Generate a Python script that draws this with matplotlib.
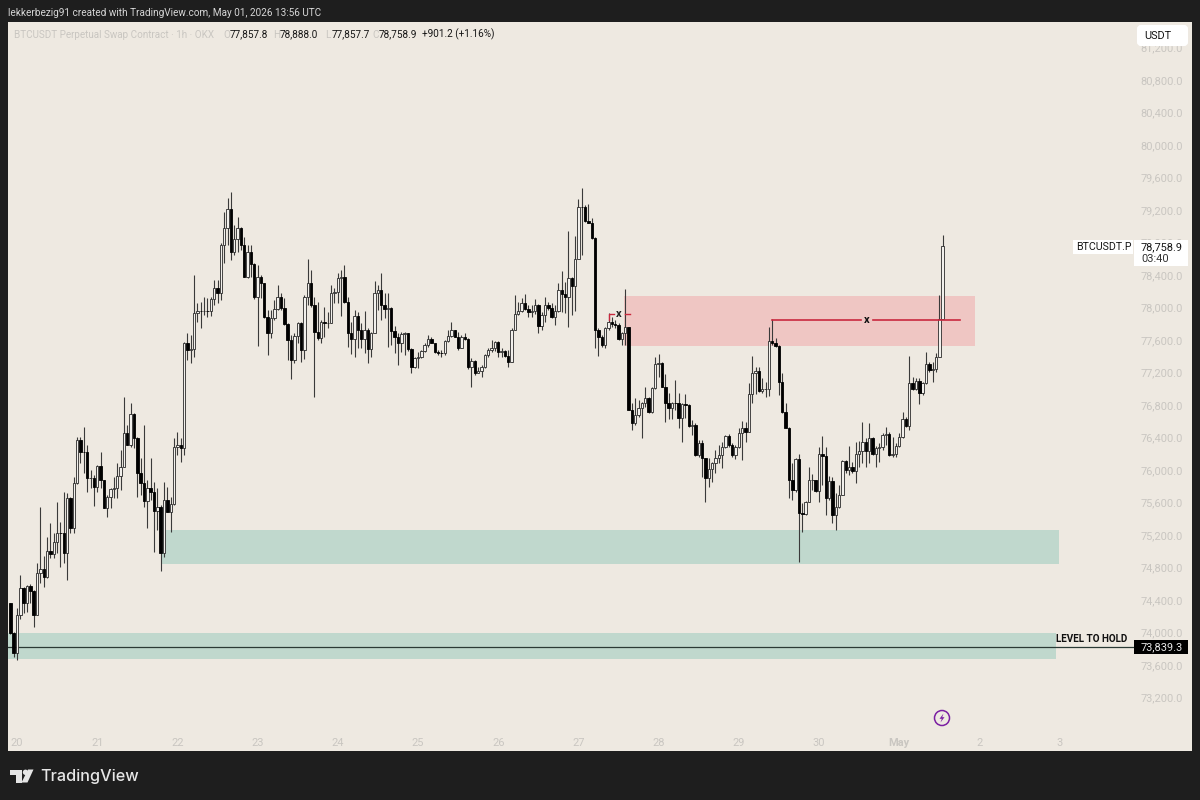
import matplotlib
matplotlib.use('Agg')
import matplotlib.pyplot as plt
import numpy as np
from matplotlib.patches import Circle, FancyBboxPatch, Polygon, Rectangle
from matplotlib.ticker import FuncFormatter

plt.rcParams['font.family'] = ['Roboto', 'DejaVu Sans']

# hourly candles, Apr 19 22:00 to May 1 13:00
first_open = 74366
closes = [
    73989, 73751, 74215, 74543, 74366, 74572, 74514, 74219, 74736, 74777, 74678, 75006, 74965, 75117, 75228, 75220,
    74982, 75651, 75281, 75835, 76369, 76225, 76217, 75897, 75905, 75794, 76053, 75876, 75536, 75663, 75761, 75774,
    75926, 76032, 76451, 76307, 76685, 76389, 75967, 75843, 75618, 75774, 75733, 75495, 75548, 74974, 75630, 75487,
    75581, 76278, 76307, 76266, 77559, 77476, 77485, 77928, 77961, 77957, 77961, 77957, 78100, 78236, 78174, 78769,
    78974, 79208, 78687, 78839, 78974, 78769, 78379, 78687, 78531, 78125, 78379, 78297, 77879, 77690, 77866, 77977,
    78133, 77989, 77797, 77600, 77353, 77649, 77805, 77476, 78125, 78305, 78030, 77702, 77628, 77825, 77805, 77813,
    78174, 78194, 78367, 78371, 78071, 77682, 77608, 77895, 77723, 77608, 77723, 77485, 77690, 78174, 78215, 78030,
    77977, 77989, 77714, 77632, 77567, 77673, 77682, 77485, 77263, 77374, 77394, 77468, 77538, 77608, 77559, 77456,
    77444, 77435, 77587, 77649, 77723, 77641, 77497, 77641, 77608, 77271, 77345, 77197, 77222, 77271, 77415, 77476,
    77505, 77571, 77456, 77464, 77403, 77333, 77723, 77920, 77961, 78051, 77977, 77948, 77961, 78030, 77776, 77907,
    78030, 77989, 77879, 77961, 78215, 78166, 78125, 78359, 78264, 78597, 79241, 79233, 79064, 79036, 78859, 77723,
    77641, 77538, 77743, 77825, 77792, 77784, 77612, 77682, 77764, 76738, 76574, 76677, 76759, 76820, 76890, 76718,
    77005, 77305, 77321, 77026, 76829, 76759, 76829, 76820, 76644, 76812, 76800, 76541, 76554, 76184, 76328, 76143,
    75897, 76008, 76082, 76143, 76184, 76279, 76418, 76308, 76184, 76287, 76459, 76513, 76472, 76931, 77198, 77223,
    76972, 76993, 76993, 77592, 77567, 77526, 77087, 76718, 76521, 75877, 75754, 76131, 75466, 75458, 75610, 75877,
    75880, 75745, 76193, 76172, 75659, 75864, 75446, 75549, 75692, 76111, 76000, 76033, 75992, 76197, 76238, 76349,
    76238, 76390, 76197, 76267, 76279, 76431, 76443, 76184, 76197, 76295, 76402, 76623, 76541, 77067, 76993, 77099,
    76944, 77075, 77305, 77231, 77239, 77395, 77857.8, 78758.9,
]
highs = [
    74366, 74010, 74296, 74707, 74555, 74584, 74592, 74522, 74851, 75548, 74941, 75179, 75343, 75220, 75610, 75363,
    75733, 75712, 75671, 75917, 76410, 76410, 76533, 76307, 76000, 75938, 76061, 76225, 75876, 75692, 75774, 75917,
    76081, 76246, 76902, 76553, 76828, 76705, 76410, 76143, 76553, 75876, 76143, 75856, 75774, 75569, 75856, 75794,
    75671, 76389, 76463, 76389, 77579, 77690, 77661, 78400, 78051, 78071, 78133, 78112, 78125, 78338, 78338, 78789,
    79179, 79343, 79425, 79015, 79118, 78995, 78871, 78769, 78769, 78543, 78523, 78400, 78297, 77969, 77969, 78092,
    78277, 78174, 78112, 77805, 77661, 77682, 77825, 77825, 78153, 78597, 78461, 78133, 78071, 77846, 78010, 77948,
    78277, 78236, 78428, 78461, 78523, 78133, 77825, 77969, 77948, 77805, 77957, 77743, 77702, 78326, 78277, 78420,
    78174, 78182, 78010, 77772, 77682, 77702, 77702, 77690, 77497, 77394, 77456, 77476, 77559, 77661, 77641, 77567,
    77476, 77476, 77600, 77723, 77825, 77723, 77702, 77661, 77690, 77620, 77374, 77353, 77271, 77292, 77427, 77497,
    77600, 77592, 77587, 77497, 77476, 77476, 77743, 78153, 78071, 78112, 78166, 78030, 78030, 78100, 78043, 77948,
    78125, 78071, 78051, 78030, 78297, 78453, 78318, 78941, 78379, 78880, 79331, 79466, 79261, 79269, 79097, 78863,
    77743, 77661, 77764, 77928, 77887, 77846, 77805, 77702, 78223, 77764, 76820, 76882, 76861, 76841, 77017, 76902,
    77026, 77395, 77428, 77333, 77181, 76944, 76841, 77108, 76952, 76829, 76935, 76808, 76615, 76574, 76369, 76369,
    76152, 76143, 76102, 76246, 76308, 76349, 76431, 76443, 76328, 76308, 76513, 76607, 76595, 77067, 77403, 77272,
    77272, 77128, 77087, 77756, 77854, 77620, 77538, 77190, 76820, 76533, 76082, 76143, 76197, 75590, 75622, 76041,
    75951, 75877, 76279, 76418, 76287, 75926, 75918, 75713, 75815, 76123, 76123, 76295, 76102, 76349, 76361, 76595,
    76390, 76582, 76410, 76295, 76328, 76451, 76525, 76472, 76402, 76328, 76451, 76718, 76656, 77403, 77149, 77128,
    77128, 77087, 77456, 77333, 77333, 77436, 78154, 78888.0,
]
lows = [
    73980, 73702, 73661, 74161, 74235, 74256, 74358, 74063, 74215, 74604, 74563, 74666, 74912, 74912, 74974, 74810,
    74851, 74645, 75220, 75220, 75827, 76081, 75958, 75733, 75774, 75556, 75733, 75774, 75527, 75425, 75527, 75651,
    75651, 75753, 76032, 76307, 76287, 76266, 75671, 75692, 75548, 75290, 75630, 74994, 75261, 74760, 74933, 75487,
    75240, 75569, 76184, 76102, 76184, 77353, 77312, 77394, 77825, 77751, 77907, 77887, 77895, 78030, 78051, 78092,
    78543, 78769, 78584, 78646, 78687, 78707, 78371, 78359, 78379, 78100, 77530, 78112, 77866, 77415, 77620, 77846,
    77969, 77969, 77784, 77353, 77115, 77312, 77559, 77333, 77362, 78030, 78010, 76902, 77600, 77559, 77641, 77743,
    77813, 78051, 78051, 77895, 78051, 77517, 77427, 77386, 77497, 77497, 77435, 77312, 77394, 77682, 77969, 77846,
    77866, 77509, 77538, 77444, 77292, 77456, 77415, 77468, 77189, 77251, 77251, 77374, 77456, 77517, 77559, 77444,
    77415, 77394, 77415, 77579, 77641, 77632, 77476, 77497, 77600, 77238, 77017, 77169, 77189, 77140, 77251, 77394,
    77456, 77468, 77386, 77394, 77394, 77271, 77333, 77723, 77907, 77948, 77969, 77887, 77887, 77920, 77690, 77723,
    77825, 77969, 77866, 77784, 77948, 77948, 77928, 77755, 77907, 77961, 78658, 78646, 79056, 79036, 78839, 77497,
    77403, 77517, 77497, 77723, 77764, 77743, 77600, 77538, 77538, 76738, 76492, 76554, 76656, 76390, 76779, 76706,
    76706, 76993, 77149, 77017, 76595, 76623, 76623, 76738, 76513, 76340, 76636, 76533, 76431, 76172, 76164, 75918,
    75610, 75795, 75856, 75959, 76082, 76020, 76267, 76287, 76164, 76131, 76267, 76123, 76349, 76472, 76829, 76935,
    76964, 76952, 76902, 76911, 77538, 77518, 76923, 76706, 76513, 75651, 75631, 75733, 74872, 75241, 75446, 75610,
    75754, 75733, 75610, 75815, 75446, 75631, 75352, 75261, 75528, 75692, 75959, 75938, 75959, 75836, 76041, 76082,
    76041, 76082, 76184, 76041, 76102, 76246, 76308, 76172, 76164, 76164, 76287, 76390, 76533, 76492, 76985, 76985,
    76812, 76923, 77058, 77210, 77087, 77210, 77395, 77857.7,
]
assert len(closes) == len(highs) == len(lows) == 280

price_ticks = [73200, 73600, 74000, 74400, 74800, 75200, 75600, 76000, 76400, 76800,
               77200, 77600, 78000, 78400, 78800, 79200, 79600, 80000, 80400, 80800, 81200]
day_labels = ['20', '21', '22', '23', '24', '25', '26', '27', '28', '29', '30', 'May', '2', '3']

# zones and levels: (first candle, last candle, low, high)
red_zone = (181.6, 286.7, 77526, 78142)
green_zone = (43.1, 311.8, 74843, 75261)
hold_zone = (-3, 310.9, 73674, 73994)
hold_level = 73825
sweep_level = 77846
small_sweep_level = 77920

BG = '#1e1e1e'
PANEL = '#eee9e1'
FAINT = '#c9c6c1'
RED = '#c9283e'

opens = [first_open] + closes[:-1]
hours = np.arange(-2, 278)

fig = plt.figure(figsize=(12, 8), dpi=100, facecolor=BG)
ax = fig.add_axes([8 / 1200, 1 - 751 / 800, 1184 / 1200, 729 / 800], facecolor=PANEL)
ax.set_xlim(-2.69, 351.6)
ax.set_ylim(72541, 81514)
for s in ax.spines.values():
    s.set_visible(False)

for x0, x1, y0, y1, c in [(*red_zone, '#efc6c3'), (*green_zone, '#c0d8cd'), (*hold_zone, '#c0d8cd')]:
    ax.add_patch(Rectangle((x0, y0), x1 - x0, y1 - y0, fc=c, ec='none', zorder=1))

# hold line runs up to the price box
ax.plot([-3, 334.8], [hold_level, hold_level], color='#2a3a35', lw=0.9, zorder=2)

# candles
ax.vlines(hours, lows, highs, color='#3a3a3a', lw=0.8, zorder=3)
up = np.array(closes) >= np.array(opens)
bottoms = np.minimum(opens, closes)
heights = np.abs(np.array(closes) - np.array(opens))
ax.bar(hours[up], heights[up], bottom=bottoms[up], width=0.72, fc='#f2f0ec', ec='#2a2a2a', lw=0.6, zorder=4)
ax.bar(hours[~up], heights[~up], bottom=bottoms[~up], width=0.72, fc='black', ec='black', lw=0.6, zorder=4)

# swept highs
ax.plot([226, 252.5], [sweep_level, sweep_level], color=RED, lw=1.2, zorder=5)
ax.plot([256, 282.2], [sweep_level, sweep_level], color=RED, lw=1.2, zorder=5)
ax.text(254.2, sweep_level, 'x', ha='center', va='center', fontsize=8, fontweight='bold', color='#111', zorder=6)
ax.plot([177, 177, 178.5], [small_sweep_level - 70, small_sweep_level, small_sweep_level], color=RED, lw=1.0, zorder=5)
ax.plot([182, 183.3], [small_sweep_level, small_sweep_level], color=RED, lw=1.0, zorder=5)
ax.text(180, small_sweep_level, 'x', ha='center', va='center', fontsize=8, fontweight='bold', color='#222', zorder=6)

# axes labels sit inside the panel, TradingView style
ax.set_xticks(np.arange(len(day_labels)) * 24)
ax.set_xticklabels(day_labels)
ax.tick_params(axis='x', length=0, pad=-9.5, labelsize=7.9, labelcolor=FAINT)
ax.get_xticklabels()[11].set_fontweight('bold')
ax.yaxis.tick_right()
ax.set_yticks(price_ticks)
ax.yaxis.set_major_formatter(FuncFormatter(lambda v, p: f'{v:,.1f}'))
ax.tick_params(axis='y', length=0, pad=-6.5, labelsize=7.9, labelcolor=FAINT)
for lbl in ax.get_yticklabels():
    lbl.set_ha('right')

# overlay in pixel coordinates for the page furniture
ov = fig.add_axes([0, 0, 1, 1], facecolor='none')
ov.set_xlim(0, 1200)
ov.set_ylim(800, 0)
ov.axis('off')

ov.text(8, 12.5, 'lekkerbezig91 created with TradingView.com, May 01, 2026 13:56 UTC',
        color='#d6d6d6', fontsize=7.2, va='center')
ov.text(14, 34.5, 'BTCUSDT Perpetual Swap Contract · 1h · OKX', color=FAINT, fontsize=7.1, va='center')
for x, letter, value in [(223, 'O', '77,857.8'), (273, 'H', '78,888.0'), (325, 'L', '77,857.7'), (372, 'C', '78,758.9')]:
    ov.text(x, 34.5, letter, color=FAINT, fontsize=7.1, va='center')
    ov.text(x + 7, 34.5, value, color='#161616', fontsize=7.2, va='center')
ov.text(422, 34.5, '+901.2 (+1.16%)', color='#161616', fontsize=7.2, va='center')

ov.add_patch(FancyBboxPatch((1138, 26), 49, 19, boxstyle='round,pad=0,rounding_size=3', fc='white', ec='white', lw=1.5))
ov.text(1144, 36, 'USDT', color='#161616', fontsize=7.9, va='center')

ov.add_patch(Rectangle((1073, 240), 60, 14, fc='white', ec='none'))
ov.text(1076, 247, 'BTCUSDT.P', color='#161616', fontsize=7.7, va='center')
ov.add_patch(Rectangle((1134, 240), 54, 26, fc='white', ec='none'))
ov.text(1141, 247, '78,758.9', color='#161616', fontsize=7.9, va='center')
ov.text(1141, 258.5, '03:40', color='#333333', fontsize=7.9, va='center')

ov.text(1056, 639, 'LEVEL TO HOLD', color='#111111', fontsize=7.1, fontweight='bold', va='center')
ov.add_patch(Rectangle((1134, 640), 54, 13.5, fc='black', ec='none'))
ov.text(1141, 647, '73,839.3', color='#e8e8e8', fontsize=7.9, va='center')

# lightning marker
ov.add_patch(Circle((942, 718), 7.5, fc='none', ec='#7b1fa2', lw=1.1))
ov.add_patch(Polygon([(943.5, 713.5), (939.5, 718.8), (941.8, 718.8), (940.5, 722.5), (944.5, 717.2), (942.2, 717.2)],
                     closed=True, fc='#7b1fa2', ec='none'))

# TradingView logo
logo = '#e6e6e6'
ov.add_patch(Polygon([(9.5, 769.5), (22, 769.5), (22, 782.5), (16, 782.5), (16, 775), (9.5, 775)], closed=True, fc=logo, ec='none'))
ov.add_patch(Circle((25.5, 772.3), 2.7, fc=logo, ec='none'))
ov.add_patch(Polygon([(28, 769.5), (33.5, 769.5), (27.5, 782.5), (21.5, 782.5)], closed=True, fc=logo, ec='none'))
ov.text(40.5, 776, 'TradingView', color=logo, fontsize=11.7, fontweight='medium', family=['Inter', 'DejaVu Sans'], va='center')

fig.savefig('out.png', dpi=100, facecolor=BG)
